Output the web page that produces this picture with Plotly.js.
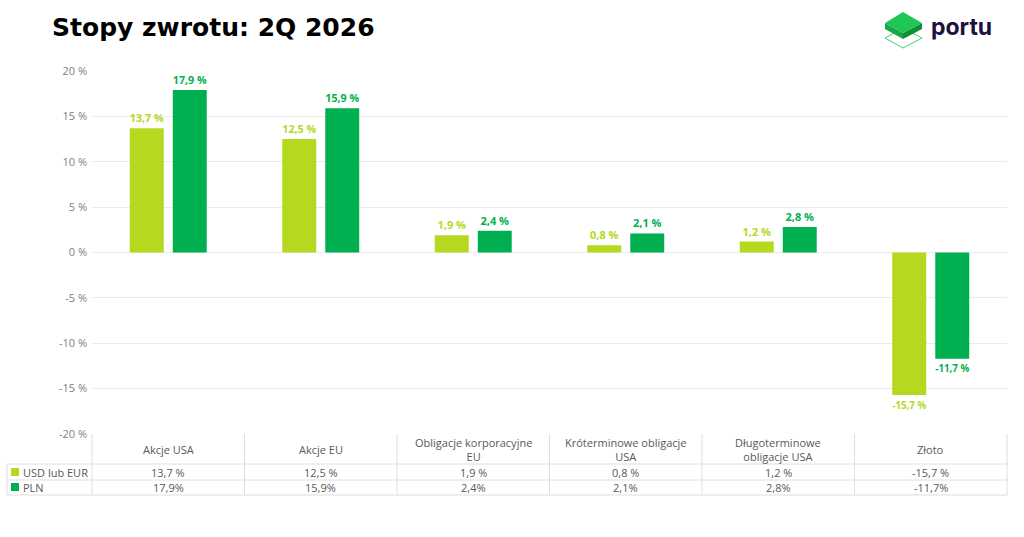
<!DOCTYPE html>
<html>
<head>
<meta charset="utf-8">
<script src="https://cdn.plot.ly/plotly-3.0.1.min.js"></script>
<style>
  html, body { margin: 0; padding: 0; background: #fff; }
  #chart { width: 1024px; height: 537px; }
</style>
</head>
<body>
<div id="chart"></div>
<script>
var categories = [
  'Akcje USA',
  'Akcje EU',
  'Obligacje korporacyjne<br>EU',
  'Króterminowe obligacje<br>USA',
  'Długoterminowe<br>obligacje USA',
  'Złoto'
];
var usdEur = [13.7, 12.5, 1.9, 0.8, 1.2, -15.7];
var pln = [17.9, 15.9, 2.4, 2.1, 2.8, -11.7];
var seriesNames = ['USD lub EUR', 'PLN'];
var tickVals = [-20, -15, -10, -5, 0, 5, 10, 15, 20];
var tickText = ['-20 %', '-15 %', '-10 %', '-5 %', '0 %', '5 %', '10 %', '15 %', '20 %'];

var LIGHT = '#b4d91e';
var DARK = '#00b050';
var FONT = 'Open Sans, sans-serif';
var TEXT = '#595959';
var BORDER = '#dedede';

// plot area in pixels, used to place the table under it
var L = 92, R = 1007, T = 71, B = 434;
function px(x) { return (x - L) / (R - L); }
function py(y) { return (B - y) / (B - T); }

function fmt(v, sep) { return v.toFixed(1).replace('.', ',') + sep + '%'; }

var idx = categories.map((c, i) => i);

var trace1 = {
  x: idx, y: usdEur, name: seriesNames[0], type: 'bar',
  marker: { color: LIGHT },
  texttemplate: '%{y:.1f} %', textposition: 'outside',
  textfont: { color: LIGHT, size: 11, family: FONT, weight: 'bold' },
  cliponaxis: false, hoverinfo: 'none'
};
var trace2 = {
  x: idx, y: pln, name: seriesNames[1], type: 'bar',
  marker: { color: DARK },
  texttemplate: '%{y:.1f} %', textposition: 'outside',
  textfont: { color: DARK, size: 11, family: FONT, weight: 'bold' },
  cliponaxis: false, hoverinfo: 'none'
};

var shapes = [];
var annotations = [];
function line(x0, y0, x1, y1, xref) {
  shapes.push({ type: 'line', xref: xref || 'paper', yref: 'paper',
    x0: x0, y0: y0, x1: x1, y1: y1, line: { color: BORDER, width: 1 } });
}

// table lines
line(px(7), py(464), px(R), py(464));
line(px(7), py(480), px(R), py(480));
line(px(7), py(495), px(R), py(495));
line(px(7), py(464), px(7), py(495));
line(0, py(B), 0, py(495));
line(1, py(B), 1, py(495));
for (var i = 0; i < categories.length - 1; i++) {
  line(i + 0.5, py(B), i + 0.5, py(495), 'x');
}

// legend squares
shapes.push({ type: 'rect', xref: 'paper', yref: 'paper', x0: px(11), x1: px(19),
  y0: py(476), y1: py(468), fillcolor: LIGHT, line: { width: 0 } });
shapes.push({ type: 'rect', xref: 'paper', yref: 'paper', x0: px(11), x1: px(19),
  y0: py(491), y1: py(483), fillcolor: DARK, line: { width: 0 } });
annotations.push({ xref: 'paper', yref: 'paper', x: px(21), y: py(472), xanchor: 'left',
  yanchor: 'middle', text: seriesNames[0], showarrow: false,
  font: { family: FONT, size: 11, color: TEXT } });
annotations.push({ xref: 'paper', yref: 'paper', x: px(21), y: py(487.5), xanchor: 'left',
  yanchor: 'middle', text: seriesNames[1], showarrow: false,
  font: { family: FONT, size: 11, color: TEXT } });

categories.forEach(function (c, i) {
  annotations.push({ xref: 'x', yref: 'paper', x: i, y: py(449.5), yanchor: 'middle',
    text: c, showarrow: false, font: { family: FONT, size: 11, color: TEXT } });
  annotations.push({ xref: 'x', yref: 'paper', x: i, y: py(472), yanchor: 'middle',
    text: fmt(usdEur[i], ' '), showarrow: false, font: { family: FONT, size: 11, color: TEXT } });
  annotations.push({ xref: 'x', yref: 'paper', x: i, y: py(487.5), yanchor: 'middle',
    text: fmt(pln[i], ''), showarrow: false, font: { family: FONT, size: 11, color: TEXT } });
});

// logo text
annotations.push({ xref: 'paper', yref: 'paper', x: px(929), y: py(27), xanchor: 'left',
  yanchor: 'middle', text: 'portu', showarrow: false,
  font: { family: 'Inter, sans-serif', size: 23, color: '#20103d', weight: 'bold' } });

var cube = '<svg xmlns="http://www.w3.org/2000/svg" viewBox="0 0 39 39" width="39" height="39">' +
  '<polygon points="1,27 19,37 38,27 19,17" fill="none" stroke="#3fd46b" stroke-width="1"/>' +
  '<polygon points="1,12 19,22 19,28 1,18" fill="#18a744"/>' +
  '<polygon points="19,22 38,12 38,18 19,28" fill="#0e8f37"/>' +
  '<polygon points="1,12 19,1 38,12 19,22" fill="#1ec653"/>' +
  '</svg>';

var layout = {
  width: 1024, height: 537,
  margin: { l: L, r: 1024 - R, t: T, b: 537 - B },
  paper_bgcolor: '#fff', plot_bgcolor: '#fff',
  separators: ', ',
  showlegend: false,
  barmode: 'group',
  bargap: 0.436,
  bargroupgap: 0.21,
  title: {
    text: 'Stopy zwrotu: 2Q 2026',
    x: 52 / 1024, xanchor: 'left', xref: 'container',
    y: 1 - 27 / 537, yanchor: 'middle', yref: 'container',
    font: { family: 'DejaVu Sans, sans-serif', size: 25, color: '#000', weight: 'bold' }
  },
  xaxis: {
    range: [-0.5, categories.length - 0.5],
    showticklabels: false, showgrid: false, zeroline: false, ticks: ''
  },
  yaxis: {
    range: [-20, 20],
    tickvals: tickVals, ticktext: tickText,
    tickfont: { family: FONT, size: 11, color: '#808080' },
    gridcolor: '#ebebeb', zeroline: true, zerolinecolor: '#ebebeb', zerolinewidth: 1,
    ticklabelstandoff: 4
  },
  shapes: shapes,
  annotations: annotations,
  images: [{
    source: 'data:image/svg+xml;utf8,' + encodeURIComponent(cube),
    xref: 'paper', yref: 'paper', x: px(884), y: py(11), sizex: 39 / (R - L), sizey: 39 / (B - T),
    xanchor: 'left', yanchor: 'top', sizing: 'stretch', layer: 'above'
  }]
};

Plotly.newPlot('chart', [trace1, trace2], layout, { displayModeBar: false, staticPlot: true });
</script>
</body>
</html>
